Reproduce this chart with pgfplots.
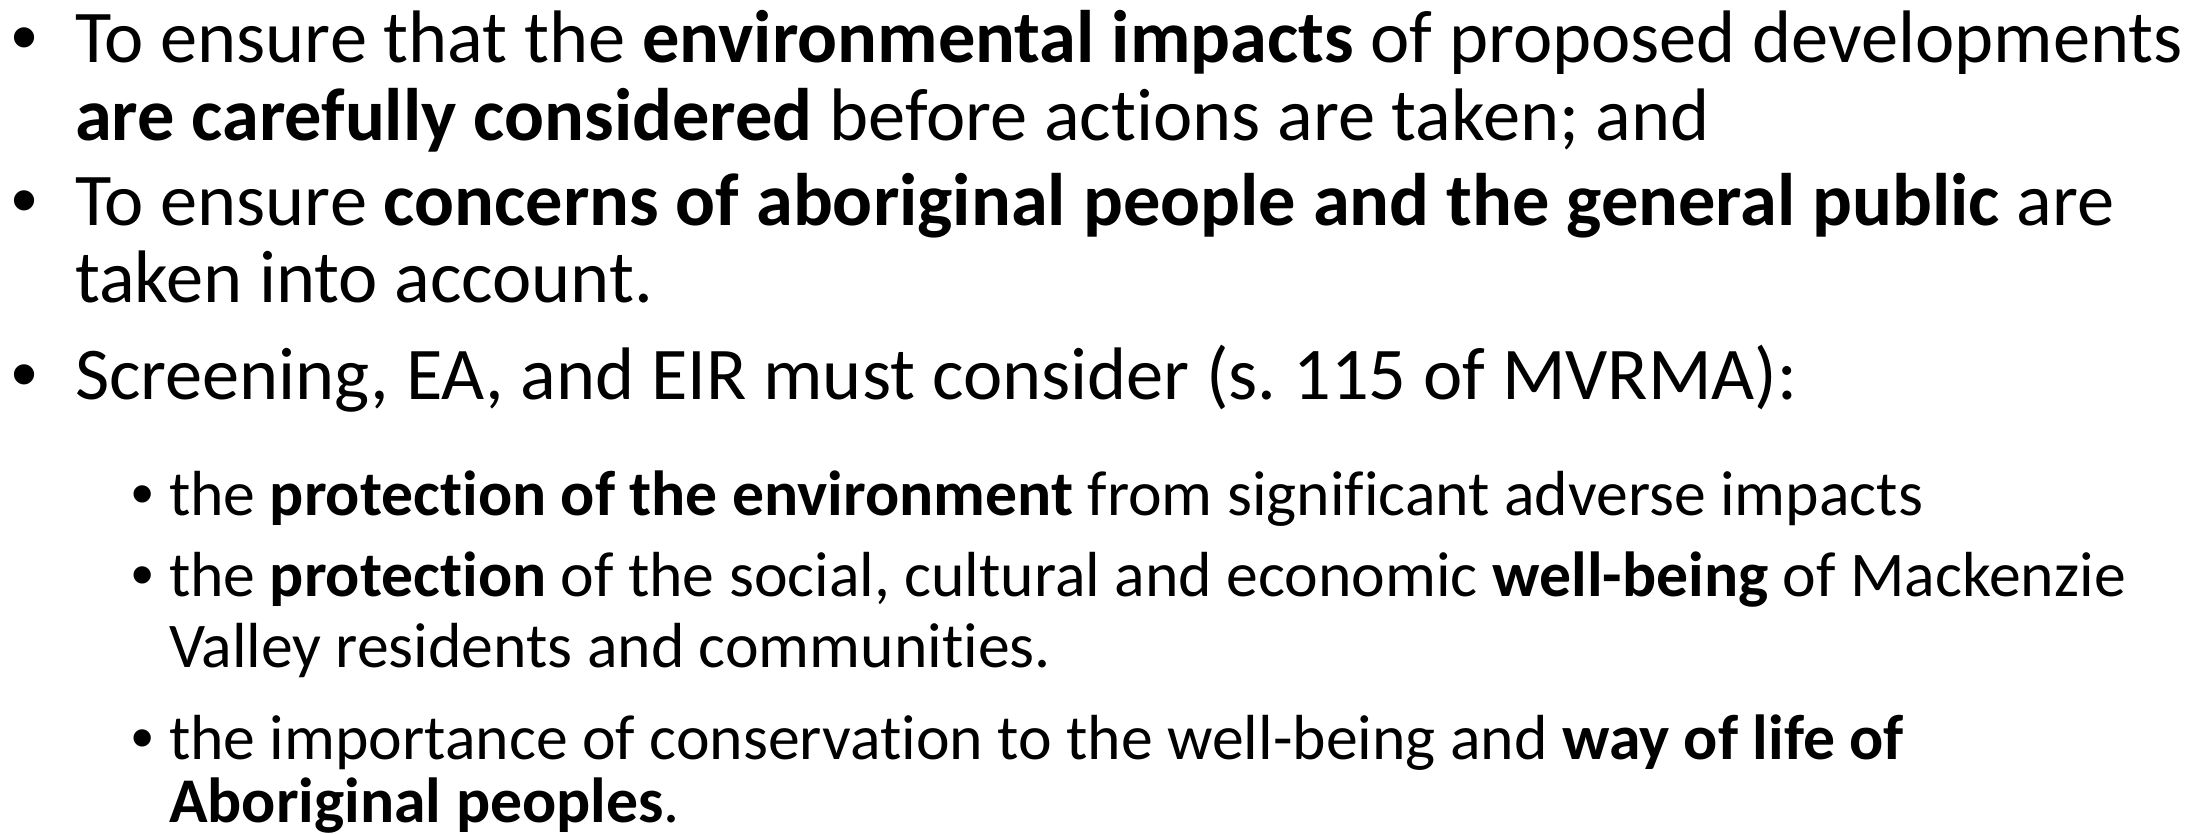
\documentclass[border=0pt]{standalone}
\usepackage{pgfplots}
\pgfplotsset{compat=1.18}
\usepackage{fontspec}
\setmainfont{Carlito}[Ligatures=NoCommon]
\newfontfamily\bulletfont{Liberation Sans}
\frenchspacing
\begin{document}
\begin{tikzpicture}
\begin{axis}[name=ax,
  scale only axis, width=1105.5bp, height=417bp,
  xmin=0, xmax=2211, ymin=0, ymax=834, y dir=reverse,
  axis line style={draw=none}, ticks=none, clip=false,
  every node/.append style={inner sep=0pt, outer sep=0pt},
]
\addplot[draw=none] coordinates {(0,0) (2211,834)};
\tikzset{L1/.style={anchor=base west, font=\fontsize{37.2bp}{44bp}\selectfont},
         L2/.style={anchor=base west, font=\fontsize{31.85bp}{38bp}\selectfont},
         B1/.style={anchor=base, font=\bulletfont\fontsize{37.2bp}{44bp}\selectfont},
         B2/.style={anchor=base, font=\bulletfont\fontsize{31.85bp}{38bp}\selectfont}}
\node[B1] at (axis cs:25,63) {•};
\node[L1] at (axis cs:68,63) {To ensure that the \textbf{environmental impacts} of proposed developments};
\node[L1] at (axis cs:68,141) {\textbf{are carefully considered} before actions are taken; and};
\node[B1] at (axis cs:25,226) {•};
\node[L1] at (axis cs:68,226) {To ensure \textbf{concerns of aboriginal people and the general public} are};
\node[L1] at (axis cs:68,303) {taken into account.};
\node[B1] at (axis cs:25,399) {•};
\node[L1] at (axis cs:68,399) {Screening, EA, and EIR must consider (s. 115 of MVRMA):};
\node[B2] at (axis cs:143,515) {•};
\node[L2] at (axis cs:162,515) {the \textbf{protection of the environment} from significant adverse impacts};
\node[B2] at (axis cs:143,596) {•};
\node[L2] at (axis cs:162,596) {the \textbf{protection} of the social, cultural and economic \textbf{well-being} of Mackenzie};
\node[L2] at (axis cs:162,667) {Valley residents and communities.};
\node[B2] at (axis cs:143,759) {•};
\node[L2] at (axis cs:162,759) {the importance of conservation to the well-being and \textbf{way of life of}};
\node[L2] at (axis cs:162,822) {\textbf{Aboriginal peoples}.};
\end{axis}
\pgfresetboundingbox
\path (ax.south west) rectangle (ax.north east);
\end{tikzpicture}
\end{document}
